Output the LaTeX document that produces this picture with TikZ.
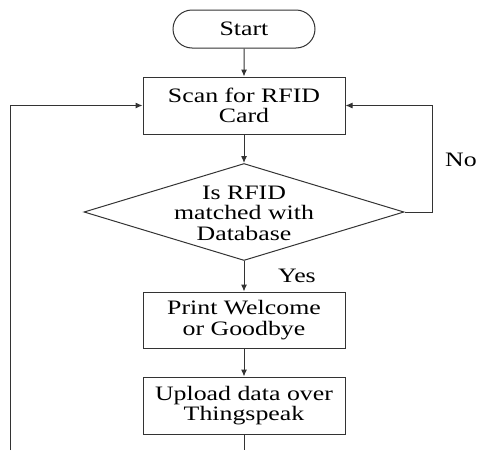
\documentclass[tikz,border=0pt]{standalone}
\usepackage{fontspec}
\setmainfont{Liberation Serif}[FakeStretch=1.26]
\usepackage{tikz}
\usetikzlibrary{arrows.meta}
\usetikzlibrary{shapes.geometric}
\usetikzlibrary{shapes.misc}
\tikzset{>={Latex[length=7pt, width=6pt]}}
\tikzstyle{term} = [rounded rectangle, draw=black!80, line width=1pt, minimum width=142pt, minimum height=38pt, inner sep=0]
\tikzstyle{proc} = [rectangle, draw=black!80, line width=1pt, minimum width=202pt, minimum height=57pt, align=center, inner sep=0]
\tikzstyle{dec} = [diamond, draw=black!80, line width=1pt, minimum width=320pt, minimum height=97pt, inner sep=0]
\tikzstyle{flow} = [->, draw=black!80, line width=1pt]

\begin{document}
\begin{tikzpicture}[x=1pt, y=-1pt, font=\fontsize{20.5}{20.5}\selectfont]
\useasboundingbox (0,0) rectangle (479,450);
%node [draw=none] at (244,0) {flow};
\node [term] (start) at (244, 29) {Start};
\node [proc] (scan) at (244, 105.5) {Scan for RFID\\Card};
\node [dec] (check) at (244, 212) {};
\node [draw=none, align=center, inner sep=0] (checktxt) at (244, 213) {Is RFID\\matched with\\Database};
\node [proc, minimum height=56pt] (print) at (244, 320) {Print Welcome\\or Goodbye};
\node [proc] (upload) at (244, 405.5) {Upload data over\\Thingspeak};
\node [draw=none] (yes) at (297, 276) {Yes};
\node [draw=none] (no) at (461, 160) {No};
\coordinate (down) at (244, 450);
\coordinate (back) at (10, 450);
\draw [flow] (start) to (scan);
\draw [flow] (scan) to (check);
\draw [flow] (check) to (print);
\draw [flow] (print) to (upload);
\draw [draw=black!80, line width=1pt] (upload) to (down);
\draw [flow] (check.east) -- ++(28,0) |- (scan.east);
\draw [flow] (back) |- (scan.west);
\end{tikzpicture}
\end{document}
